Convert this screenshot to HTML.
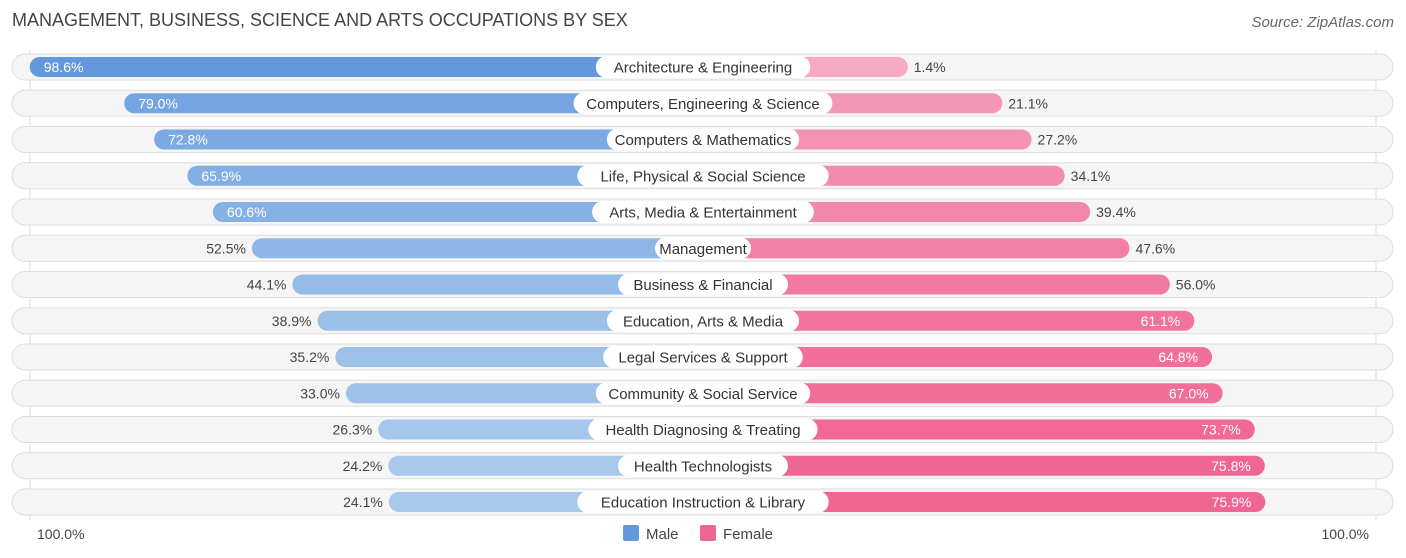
<!DOCTYPE html>
<html><head><meta charset="utf-8"><style>
body{margin:0;width:1406px;height:558px;background:#fff;font-family:"Liberation Sans",sans-serif;position:relative;overflow:hidden}
.t{position:absolute;left:12px;top:10px;font-size:18px;color:#444}
.src{position:absolute;right:12px;top:14px;font-size:15px;color:#666;font-style:italic}
svg{position:absolute;left:0;top:0}
</style></head><body>
<div class="t">MANAGEMENT, BUSINESS, SCIENCE AND ARTS OCCUPATIONS BY SEX</div>
<div class="src">Source: ZipAtlas.com</div>
<svg id="c" width="1406" height="558"></svg>
<script>
const categories=["Architecture & Engineering","Computers, Engineering & Science","Computers & Mathematics","Life, Physical & Social Science","Arts, Media & Entertainment","Management","Business & Financial","Education, Arts & Media","Legal Services & Support","Community & Social Service","Health Diagnosing & Treating","Health Technologists","Education Instruction & Library"];
const male=[98.6,79.0,72.8,65.9,60.6,52.5,44.1,38.9,35.2,33.0,26.3,24.2,24.1];
const female=[1.4,21.1,27.2,34.1,39.4,47.6,56.0,61.1,64.8,67.0,73.7,75.8,75.9];
const ns="http://www.w3.org/2000/svg",svg=document.getElementById('c');
function mk(t,a){const e=document.createElementNS(ns,t);for(const k in a)e.setAttribute(k,a[k]);svg.appendChild(e);return e;}
const maleX=v=>505-4.82*v, femX=v=>901+4.8*v, rowY=i=>67+i*36.25;
function mix(a,b,t){return 'rgb('+a.map((x,i)=>Math.round(x+(b[i]-x)*t)).join(',')+')';}
const mMin=Math.min(...male),mMax=Math.max(...male),fMax=Math.max(...female);
let g=mk('line',{x1:30,y1:50,x2:30,y2:520,stroke:'#ddd'});
g=mk('line',{x1:1376,y1:50,x2:1376,y2:520,stroke:'#ddd'});
categories.forEach((c,i)=>{
 const y=rowY(i);
 const bg=mk('rect',{x:12,y:y-13,width:1381,height:26,rx:13,fill:'#f5f5f5',stroke:'#ddd'});
 
 const t=Math.min(1,Math.max(0,(male[i]-mMin)/(mMax-mMin)));
 const mx=maleX(male[i]);
 const mb=mk('rect',{x:mx,y:y-10,width:703-mx,height:20,rx:10,fill:mix([168,200,236],[99,153,220],t)});
 
 const ft=Math.min(1,Math.max(0,female[i]/fMax));
 const fx=femX(female[i]);
 const fb=mk('rect',{x:703,y:y-10,width:fx-703,height:20,rx:10,fill:mix([245,170,196],[240,102,146],ft)});
 
 const mIn=male[i]>55, fIn=female[i]>58;
 const ml=mk('text',{x:mIn?mx+14:mx-6,y:y+5,'font-size':14,fill:mIn?'#fff':'#444','text-anchor':mIn?'start':'end'});
 ml.textContent=male[i].toFixed(1)+'%';
 
 const fl=mk('text',{x:fIn?fx-14:fx+6,y:y+5,'font-size':14,fill:fIn?'#fff':'#444','text-anchor':fIn?'end':'start'});
 fl.textContent=female[i].toFixed(1)+'%';
 
 const w=c.length*7.4+22;
 const lb=mk('rect',{x:703-w/2,y:y-11,width:w,height:22,rx:11,fill:'#fff'});
 
 const lt=mk('text',{x:703,y:y+5.5,'font-size':15,fill:'#333','text-anchor':'middle'});
 lt.textContent=c;
 
});
function txt(x,y,s,a,n){const e=mk('text',{x:x,y:y,'font-size':14,fill:'#444','text-anchor':a});e.textContent=s;return e;}
txt(37,539,'100.0%','start','axis-left-label');
txt(1369,539,'100.0%','end','axis-right-label');
let r=mk('rect',{x:623,y:525,width:16,height:16,rx:2,fill:'#6399dc'});
txt(646,539,'Male','start','legend-male').setAttribute('font-size',15);
r=mk('rect',{x:700,y:525,width:16,height:16,rx:2,fill:'#f06692'});
txt(723,539,'Female','start','legend-female').setAttribute('font-size',15);
</script>
</body></html>
